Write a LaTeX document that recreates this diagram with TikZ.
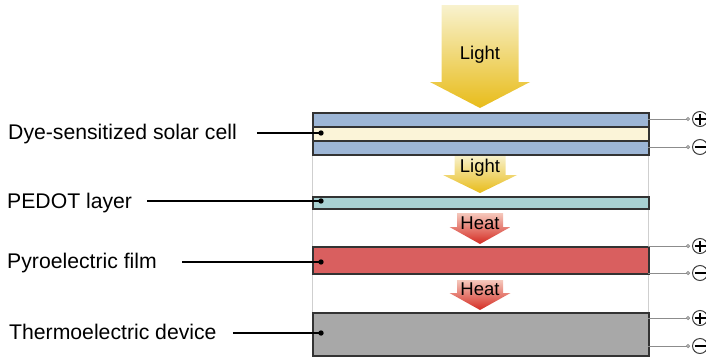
\documentclass[tikz,border=0pt]{standalone}
\usepackage{fontspec}
\setmainfont{Liberation Sans}
\usetikzlibrary{positioning,calc}
\definecolor{CellBlue}{HTML}{9DB6D6}
\definecolor{DyeCream}{HTML}{FBF4D8}
\definecolor{PedotTeal}{HTML}{A9D2D3}
\definecolor{PyroRed}{HTML}{D95F5F}
\definecolor{TEGray}{HTML}{A8A8A8}
\definecolor{EdgeGray}{HTML}{333333}
\definecolor{WireGray}{HTML}{8C8C8C}
\definecolor{GuideGray}{HTML}{CFCFCF}
\definecolor{LightTop}{HTML}{F8F2CE}
\definecolor{LightBot}{HTML}{E8BC1A}
\definecolor{HeatTop}{HTML}{F5C8BC}
\definecolor{HeatBot}{HTML}{D42B22}

% #1 top, #2 head base, #3 tip, #4 half shaft, #5 half head, #6 style
\newcommand{\downflow}[6]{%
  \shade[#6] (480-#4,#1) -- (480+#4,#1) -- (480+#4,#2) -- (480+#5,#2) -- (480,#3) -- (480-#5,#2) -- (480-#4,#2) -- cycle;}

\begin{document}
\begin{tikzpicture}[x=1pt,y=-1pt]
\tikzset{layer/.style={rectangle,draw=EdgeGray,line width=1.5pt,inner sep=0pt,minimum width=336pt,anchor=north west},
  lbl/.style={inner sep=0pt,anchor=base west,font=\fontsize{21.2}{25}\selectfont},
  flowtxt/.style={inner sep=0pt,font=\fontsize{18.5}{22}\selectfont},
  lightflow/.style={top color=LightTop,bottom color=LightBot},
  heatflow/.style={top color=HeatTop,bottom color=HeatBot},
  leader/.style={draw=black,line width=1.2pt},
  wire/.style={draw=WireGray,line width=0.9pt},
  term/.style={draw=black!75,line width=1pt}}
\useasboundingbox (0,0) rectangle (706,356);

% guide lines between the stacked layers
\draw[GuideGray,line width=1pt] (312,154) -- (312,312);
\draw[GuideGray,line width=1pt] (648,154) -- (648,312);

% light and heat flows
\downflow{5}{82}{108}{38.5}{50}{lightflow}
\downflow{155}{175}{193}{25.5}{37}{lightflow}
\downflow{213}{227}{244}{23}{30.5}{heatflow}
\downflow{280}{293}{310}{23}{30.5}{heatflow}
\node[flowtxt] (light1) at (480,55) {Light};
\node[flowtxt] (light2) at (480,168) {Light};
\node[flowtxt] (heat1) at (480,223) {Heat};
\node[flowtxt] (heat2) at (480,289) {Heat};

% layers
\node[layer,fill=CellBlue,minimum height=14pt] (dsscA) at (312,112) {};
\node[layer,fill=DyeCream,minimum height=14pt] (dsscB) at (312,126) {};
\node[layer,fill=CellBlue,minimum height=14pt] (dsscC) at (312,140) {};
\node[layer,fill=PedotTeal,minimum height=12pt] (pedot) at (312,196) {};
\node[layer,fill=PyroRed,minimum height=27pt] (pyro) at (312,246) {};
\node[layer,fill=TEGray,minimum height=43pt] (tedev) at (312,312) {};

% labels
\node[lbl] (dsscl) at (8,139) {Dye-sensitized solar cell};
\node[lbl] (pedotl) at (7,208) {PEDOT layer};
\node[lbl] (pyrol) at (7,268) {Pyroelectric film};
\node[lbl] (tedevl) at (9,339) {Thermoelectric device};

\coordinate (dsscdot) at (321,133);
\coordinate (pedotdot) at (321,201);
\coordinate (pyrodot) at (321,262);
\coordinate (tedevdot) at (321,333);
\draw[leader] ($(dsscdot -| dsscl.east)+(20,0)$) -- (dsscdot);
\draw[leader] ($(pedotdot -| pedotl.east)+(15,0)$) -- (pedotdot);
\draw[leader] ($(pyrodot -| pyrol.east)+(25,0)$) -- (pyrodot);
\draw[leader] ($(tedevdot -| tedevl.east)+(16,0)$) -- (tedevdot);
\foreach \d in {dsscdot,pedotdot,pyrodot,tedevdot}
  \fill (\d) circle (2.7);

% terminals
\foreach \y in {119,147,246,273,318,346}{
  \draw[wire] (648,\y) -- (686.5,\y);
  \draw[wire] (688,\y) circle (1.6);
  \draw[term] (700,\y) circle (7.5);
  \draw[line width=1.5pt] (694.5,\y) -- (705.5,\y);
}
\foreach \y in {119,246,318}
  \draw[line width=1.5pt] (700,\y-5.5) -- (700,\y+5.5);
\end{tikzpicture}
\end{document}
